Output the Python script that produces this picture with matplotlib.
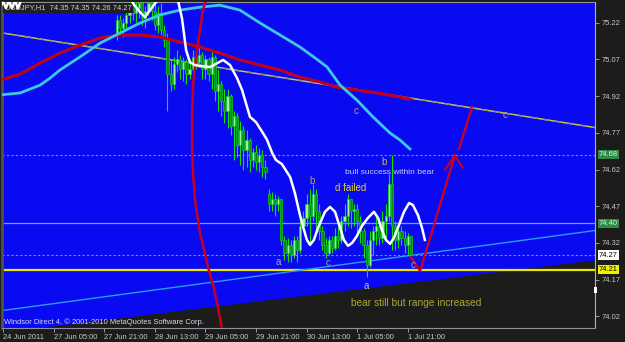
import matplotlib
matplotlib.use('Agg')
import matplotlib.pyplot as plt
from matplotlib.transforms import blended_transform_factory
from matplotlib.patches import Rectangle

plt.rcParams['font.family'] = ['Liberation Sans', 'DejaVu Sans']

# ---- candles: bar index (hourly bars, 0 = 24 Jun 2011) and prices ----
first_bar = 36
opens = [75.17, 75.23, 75.20, 75.22, 75.25, 75.29, 75.26, 75.28, 75.30, 75.24,
         75.27, 75.30, 75.27, 75.21, 75.26, 75.19, 75.15, 75.01, 74.97, 75.05,
         75.07, 75.03, 75.06, 75.01, 75.03, 75.08, 75.06, 75.09, 75.03, 75.07,
         75.01, 75.08, 74.94, 74.97, 74.90, 74.86, 74.92, 74.80, 74.84, 74.72,
         74.78, 74.70, 74.74, 74.66, 74.69, 74.65, 74.68, 74.63, 74.52, 74.48,
         74.50, 74.48, 74.50, 74.33, 74.28, 74.31, 74.27, 74.33, 74.29, 74.39,
         74.42, 74.48, 74.43, 74.52, 74.45, 74.37, 74.31, 74.28, 74.33, 74.30,
         74.35, 74.33, 74.41, 74.43, 74.50, 74.45, 74.46, 74.41, 74.37, 74.31,
         74.23, 74.33, 74.37, 74.39, 74.34, 74.41, 74.43, 74.56, 74.39, 74.33,
         74.37, 74.34, 74.31, 74.35]
highs = [75.25, 75.25, 75.24, 75.27, 75.31, 75.33, 75.31, 75.33, 75.31, 75.29,
         75.35, 75.33, 75.30, 75.29, 75.30, 75.21, 75.18, 75.07, 75.08, 75.11,
         75.09, 75.08, 75.07, 75.07, 75.11, 75.11, 75.12, 75.10, 75.09, 75.08,
         75.11, 75.09, 75.03, 74.98, 74.95, 74.95, 74.93, 74.86, 74.85, 74.82,
         74.80, 74.78, 74.75, 74.71, 74.72, 74.71, 74.70, 74.66, 74.54, 74.53,
         74.52, 74.51, 74.50, 74.35, 74.34, 74.33, 74.35, 74.35, 74.43, 74.45,
         74.52, 74.54, 74.56, 74.54, 74.48, 74.39, 74.34, 74.35, 74.35, 74.38,
         74.39, 74.43, 74.48, 74.52, 74.50, 74.48, 74.48, 74.43, 74.38, 74.33,
         74.37, 74.39, 74.43, 74.42, 74.45, 74.48, 74.60, 74.68, 74.41, 74.39,
         74.39, 74.37, 74.36, 74.35]
lows = [75.15, 75.17, 75.16, 75.19, 75.22, 75.23, 75.22, 75.24, 75.21, 75.20,
        75.25, 75.23, 75.19, 75.18, 75.17, 75.12, 74.86, 74.94, 74.95, 75.02,
        74.99, 74.98, 74.97, 74.99, 75.02, 75.03, 75.04, 74.99, 74.99, 74.98,
        74.95, 74.90, 74.86, 74.84, 74.81, 74.79, 74.76, 74.66, 74.67, 74.64,
        74.62, 74.63, 74.61, 74.63, 74.62, 74.61, 74.59, 74.58, 74.45, 74.45,
        74.43, 74.45, 74.31, 74.25, 74.24, 74.24, 74.26, 74.24, 74.28, 74.37,
        74.39, 74.31, 74.41, 74.37, 74.33, 74.29, 74.26, 74.27, 74.28, 74.29,
        74.30, 74.32, 74.37, 74.39, 74.38, 74.39, 74.35, 74.32, 74.26, 74.18,
        74.22, 74.27, 74.31, 74.31, 74.32, 74.33, 74.41, 74.29, 74.29, 74.30,
        74.31, 74.28, 74.27, 74.26]
closes = [75.23, 75.20, 75.22, 75.25, 75.29, 75.26, 75.28, 75.30, 75.24, 75.27,
          75.30, 75.27, 75.21, 75.26, 75.19, 75.15, 75.01, 74.97, 75.05, 75.07,
          75.03, 75.06, 75.01, 75.03, 75.08, 75.06, 75.09, 75.03, 75.07, 75.01,
          75.08, 74.94, 74.97, 74.90, 74.86, 74.92, 74.80, 74.84, 74.72, 74.78,
          74.70, 74.74, 74.66, 74.69, 74.65, 74.68, 74.63, 74.61, 74.48, 74.50,
          74.48, 74.50, 74.33, 74.28, 74.31, 74.27, 74.33, 74.29, 74.39, 74.42,
          74.48, 74.43, 74.52, 74.45, 74.37, 74.31, 74.28, 74.33, 74.30, 74.35,
          74.33, 74.41, 74.43, 74.50, 74.45, 74.46, 74.41, 74.37, 74.31, 74.23,
          74.33, 74.37, 74.39, 74.34, 74.41, 74.43, 74.56, 74.39, 74.33, 74.37,
          74.34, 74.31, 74.35, 74.27]

# ---- indicator lines (bar index, price) ----
white_x = [-0.9, 0.0, 0.9, 1.9, 2.8, 3.8, 4.7, 5.7, 7.0, 24.0, 39.0, 41.1, 43.3, 44.9,
           46.5, 48.1, 49.0, 52.2, 55.3, 56.6, 57.9, 59.1, 60.7, 62.3, 65.5, 69.6,
           71.8, 74.0, 75.6, 78.1, 80.0, 82.2, 83.5, 85.1, 86.3, 88.2, 90.8, 92.3,
           93.9, 94.9, 96.1, 97.1, 98.3, 99.6, 101.8, 103.4, 105.0, 106.6, 107.8,
           109.1, 110.4, 111.9, 113.5, 115.4, 117.3, 118.6, 119.8, 121.1, 122.4,
           123.6, 125.2, 126.8, 128.4, 129.6, 131.2, 132.5, 133.4]
white_y = [75.28, 75.31, 75.28, 75.31, 75.28, 75.31, 75.28, 75.31, 75.36, 75.56, 75.36,
           75.30, 75.264, 75.243, 75.272, 75.30, 75.313, 75.40, 75.313, 75.238,
           75.108, 75.059, 75.047, 75.043, 75.039, 75.068, 75.047, 74.994, 74.945,
           74.835, 74.814, 74.769, 74.741, 74.688, 74.659, 74.642, 74.589, 74.524,
           74.434, 74.385, 74.332, 74.312, 74.332, 74.381, 74.447, 74.467, 74.447,
           74.381, 74.332, 74.308, 74.320, 74.348, 74.389, 74.422, 74.447, 74.422,
           74.373, 74.332, 74.316, 74.340, 74.393, 74.447, 74.483, 74.475, 74.434,
           74.381, 74.332]
cyan_x = [-0.9, 5.4, 11.7, 14.9, 18.0, 24.3, 30.7, 37.0, 43.3, 49.6, 56.0, 62.3, 68.6,
          74.9, 81.3, 87.6, 93.9, 98.7, 102.5, 106.6, 111.9, 117.0, 122.4, 125.5, 128.7]
cyan_y = [74.925, 74.933, 74.965, 74.994, 75.027, 75.080, 75.137, 75.178, 75.219,
          75.252, 75.272, 75.284, 75.292, 75.272, 75.219, 75.170, 75.121, 75.076,
          75.039, 74.965, 74.904, 74.835, 74.769, 74.741, 74.704]
red_x = [-0.9, 5.4, 11.7, 18.0, 24.3, 30.7, 37.0, 43.3, 49.6, 56.0, 62.3, 68.6, 74.9,
         81.3, 87.6, 93.9, 100.2, 105.6, 111.9, 118.3, 125.5, 128.7]
red_y = [74.986, 75.010, 75.055, 75.096, 75.129, 75.158, 75.170, 75.170, 75.162,
         75.141, 75.121, 75.096, 75.068, 75.047, 75.027, 74.998, 74.978, 74.957,
         74.945, 74.933, 74.917, 74.908]

# ---- drawn objects ----
upper_trend_x = [-1.0, 188.0]
upper_trend_y = [75.18, 74.79]
lower_trend_x = [-1.0, 188.0]
lower_trend_y = [74.042, 74.372]
floor_x = [5.4, 188.0]
floor_y = [73.964, 74.252]
arc_x = [64.2, 63.2, 62.3, 61.3, 60.7, 60.1, 59.8, 59.8, 59.8, 60.1, 60.7, 61.3,
         62.3, 63.6, 64.8, 66.4, 67.7, 69.2]
arc_y = [75.313, 75.272, 75.190, 75.108, 75.039, 74.965, 74.863, 74.782, 74.700,
         74.606, 74.496, 74.443, 74.361, 74.291, 74.222, 74.148, 74.074, 73.972]
zigzag_x = [129.0, 131.9, 142.9]
zigzag_y = [74.262, 74.205, 74.679]
head_x = [139.8, 142.9, 145.4]
head_y = [74.619, 74.679, 74.627]
ray_x = [144.2, 148.3]
ray_y = [74.704, 74.876]

hlines = [74.68, 74.40, 74.27, 74.21]

# wave labels
wave_text = ['c', 'c', 'b', 'b', 'a', 'c', 'a', 'c']
wave_x = [111.6, 158.7, 120.5, 97.7, 87.0, 102.8, 114.8, 129.6]
wave_y = [74.859, 74.843, 74.651, 74.573, 74.242, 74.238, 74.144, 74.230]
wave_col = ['#b8a850', '#b8a850', '#c8b848', '#b8a860', '#a8a8c8', '#b0a070',
            '#b8b8d8', '#b0a8b0']

time_ticks = [0, 16, 32, 48, 64, 80, 96, 112, 128]
time_labels = ['24 Jun 2011', '27 Jun 05:00', '27 Jun 21:00', '28 Jun 13:00',
               '29 Jun 05:00', '29 Jun 21:00', '30 Jun 13:00', '1 Jul 05:00',
               '1 Jul 21:00']
price_ticks = [75.22, 75.07, 74.92, 74.77, 74.62, 74.47, 74.32, 74.17, 74.02]

BG = '#0a0af2'
DARK = '#1c1c1a'

fig = plt.figure(figsize=(6.25, 3.42), dpi=100)
fig.patch.set_facecolor(DARK)
ax = fig.add_axes([2 / 625, 14 / 342, 593 / 625, 326 / 342])
ax.set_facecolor(BG)
ax.set_xlim(-0.32, 187.2)
ax.set_ylim(73.972, 75.305)

# black triangle under the support line
ax.fill_between(floor_x, floor_y, 73.9, color=DARK, lw=0, zorder=1)

# horizontal levels
ax.axhline(hlines[0], color='#6a8ce0', lw=0.8, ls=(0, (2, 2)), zorder=2)
ax.axhline(hlines[1], color='#45b4e6', lw=0.9, zorder=2)
ax.axhline(hlines[2], color='#8a8ab0', lw=0.8, ls=(0, (2, 2)), zorder=2)
ax.axhline(hlines[3], color='#e8e800', lw=1.6, zorder=2)

# trendlines
ax.plot(upper_trend_x, upper_trend_y, color='#d8d820', lw=1.0, zorder=2)
ax.plot(upper_trend_x, upper_trend_y, color='#8a8a9a', lw=1.0, ls=(0, (5, 4)), zorder=2)
ax.plot(lower_trend_x, lower_trend_y, color='#2a9cf0', lw=1.0, zorder=2)

# candles
for k in range(len(closes)):
    x = first_bar + k
    o, h, l, c = opens[k], highs[k], lows[k], closes[k]
    ax.vlines(x, l, h, color='#10e010', lw=0.8, zorder=3)
    fill = '#a0f0a0' if c >= o else '#0c8a0c'
    ax.bar(x, c - o, bottom=o, width=0.7, color=fill, edgecolor='#10d010',
           lw=0.5, zorder=4)

# moving averages
ax.plot(red_x, red_y, color='#c00018', lw=2.2, zorder=5)
ax.plot(cyan_x, cyan_y, color='#3cc8e4', lw=2.0, zorder=5)
ax.plot(white_x, white_y, color='white', lw=1.8, zorder=7)

# ellipse arc and arrow
ax.plot(arc_x, arc_y, color='#c8001c', lw=1.8, zorder=6)
ax.plot(zigzag_x, zigzag_y, color='#d0001c', lw=1.6, zorder=6)
ax.plot(head_x, head_y, color='#d0001c', lw=1.4, zorder=6)
ax.plot(ray_x, ray_y, color='#d0001c', lw=1.6, zorder=6)

# text annotations
for t, x, y, col in zip(wave_text, wave_x, wave_y, wave_col):
    ax.text(x, y, t, color=col, fontsize=7, ha='center', va='center', zorder=8)
ax.text(108.1, 74.606, 'bull success within bear', color='#c8cce8', fontsize=6,
        ha='left', va='center', zorder=8)
ax.text(105.0, 74.545, 'd failed', color='#e0d030', fontsize=7, ha='left',
        va='center', zorder=8)
ax.text(110.0, 74.074, 'bear still but range increased', color='#b0a830',
        fontsize=7.3, ha='left', va='center', zorder=8)

ax.text(0.0035, 0.018, 'Windsor Direct 4, \u00a9 2001-2010 MetaQuotes Software Corp.',
        transform=ax.transAxes, color='#d8d8f0', fontsize=5.4, ha='left',
        va='center', zorder=8)
ax.text(0.005, 0.993, 'USDJPY,H1  74.35 74.35 74.26 74.27', transform=ax.transAxes,
        color='#d0d0d0', fontsize=5.4, ha='left', va='top', zorder=6,
        bbox=dict(facecolor='#202020', edgecolor='none', pad=1.2))

# axes
ax.set_xticks(time_ticks)
ax.set_xticklabels(time_labels, ha='left')
ax.yaxis.tick_right()
ax.set_yticks(price_ticks)
ax.set_yticklabels([f'{p:.2f}' for p in price_ticks])
ax.tick_params(axis='x', length=3, width=0.6, color='#b0b0b0', labelcolor='#c8c8c8',
               labelsize=5.4, pad=1)
ax.tick_params(axis='y', length=3, width=0.6, color='#b0b0b0', labelcolor='#c8c8c8',
               labelsize=5.4, pad=2)
for s in ['top', 'bottom']:
    ax.spines[s].set_color('#9090a0')
    ax.spines[s].set_linewidth(0.8)
ax.spines['right'].set_color('#b0b0d0')
ax.spines['right'].set_linewidth(0.8)
ax.spines['left'].set_color('#505050')
ax.spines['left'].set_linewidth(2)

# price tags on the right axis
tr = blended_transform_factory(ax.transAxes, ax.transData)
tags = [(74.68, '#2e8c48', '#e0f0e0'), (74.40, '#2e8c48', '#e0f0e0'),
        (74.27, 'white', 'black'), (74.21, '#f0f000', 'black')]
for p, fc, tc in tags:
    ax.text(1.0068, p, f'{p:.2f}', transform=tr, color=tc, fontsize=5.4, ha='left',
            va='center', zorder=9, clip_on=False,
            bbox=dict(facecolor=fc, edgecolor='none', pad=0.8))

# chart shift marker
fig.patches.append(Rectangle((594 / 625, 1 - 293 / 342), 3 / 625, 6 / 342,
                             transform=fig.transFigure, facecolor='white',
                             edgecolor='none'))

fig.savefig('out.png', dpi=100, facecolor=DARK)
